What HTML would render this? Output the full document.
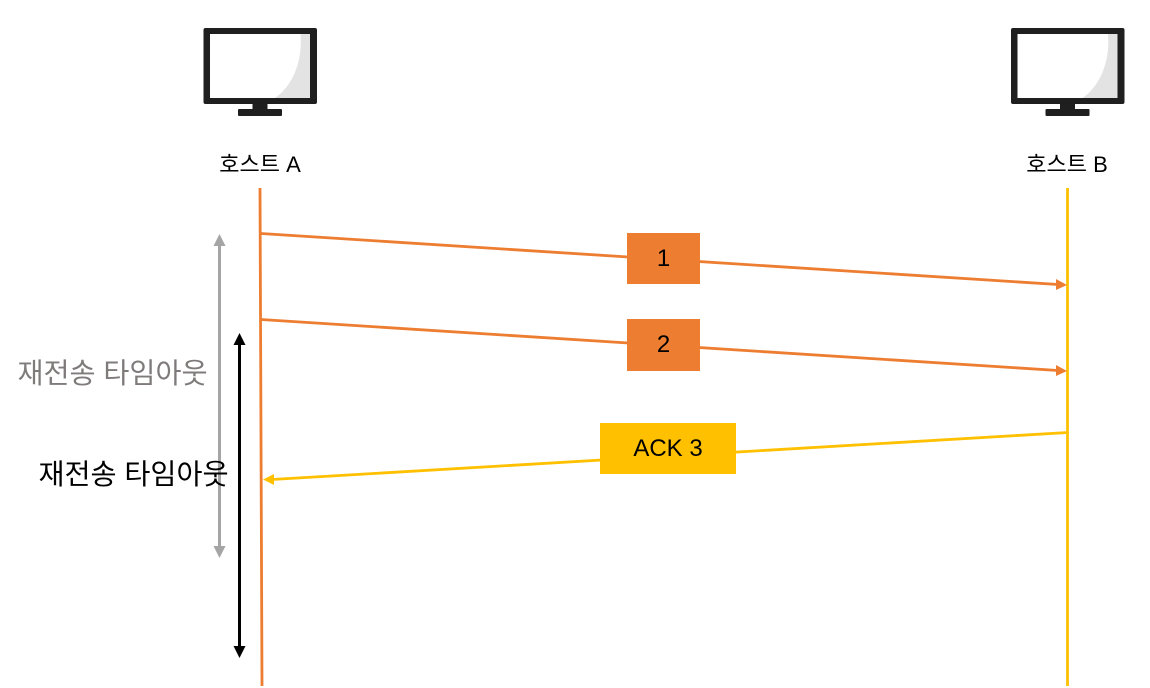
<!DOCTYPE html>
<html lang="ko">
<head>
<meta charset="utf-8">
<style>
html,body{margin:0;padding:0;background:#fff;width:1150px;height:688px;overflow:hidden}
svg{display:block}
text{font-family:"Liberation Sans","Noto Sans CJK KR",sans-serif}
</style>
</head>
<body>
<svg width="1150" height="688" viewBox="0 0 1150 688" xmlns="http://www.w3.org/2000/svg">
<defs>
<g id="mon">
<rect x="203.5" y="28" width="113.5" height="76" rx="2" fill="#1f1f1f"/>
<rect x="210" y="34" width="100" height="64" fill="#fff"/>
<path d="M300.5 34H310V98H275C290 88 303 65 300.5 34Z" fill="#e3e3e3"/>
<rect x="252.5" y="103" width="15" height="7" fill="#1f1f1f"/>
<rect x="238" y="109" width="44" height="7" rx="1" fill="#1f1f1f"/>
</g>
</defs>
<use href="#mon"/>
<use href="#mon" x="807.5"/>
<text x="260" y="172" font-size="22" text-anchor="middle" fill="#000">호스트 A</text>
<text x="1067" y="172" font-size="22" text-anchor="middle" fill="#000">호스트 B</text>

<line x1="260" y1="188" x2="262" y2="686" stroke="#ed7d31" stroke-width="2.8"/>
<line x1="1067.5" y1="188" x2="1067.5" y2="686" stroke="#ffc000" stroke-width="2.8"/>

<line x1="261" y1="233.5" x2="1058" y2="284.5" stroke="#ed7d31" stroke-width="2.8"/>
<polygon points="1067,285 1056,279 1056,290" fill="#ed7d31"/>
<line x1="261" y1="319.5" x2="1058" y2="370.5" stroke="#ed7d31" stroke-width="2.8"/>
<polygon points="1067,371 1056,365 1056,376" fill="#ed7d31"/>
<line x1="1068" y1="432.5" x2="272" y2="479.5" stroke="#ffc000" stroke-width="2.8"/>
<polygon points="263,479.5 274,474 274,485" fill="#ffc000"/>

<rect x="627" y="233" width="73" height="51" fill="#ed7d31"/>
<rect x="627" y="319" width="73" height="52" fill="#ed7d31"/>
<rect x="600" y="423" width="136" height="51" fill="#ffc000"/>
<text x="663.5" y="266" font-size="24" text-anchor="middle" fill="#000">1</text>
<text x="663.5" y="352" font-size="24" text-anchor="middle" fill="#000">2</text>
<text x="668" y="456" font-size="24" text-anchor="middle" fill="#000">ACK 3</text>

<line x1="219.5" y1="243" x2="219.5" y2="549" stroke="#a5a5a5" stroke-width="3"/>
<polygon points="219.5,234 213.5,246 225.5,246" fill="#a5a5a5"/>
<polygon points="219.5,558 213.5,546 225.5,546" fill="#a5a5a5"/>
<line x1="239.5" y1="342" x2="239.5" y2="649" stroke="#000" stroke-width="3"/>
<polygon points="239.5,333 233.5,345 245.5,345" fill="#000"/>
<polygon points="239.5,658 233.5,646 245.5,646" fill="#000"/>

<text x="112.5" y="383" font-size="28.3" text-anchor="middle" fill="#7f7b7b">재전송 타임아웃</text>
<text x="133.5" y="484" font-size="28.3" text-anchor="middle" fill="#000">재전송 타임아웃</text>
</svg>
</body>
</html>
